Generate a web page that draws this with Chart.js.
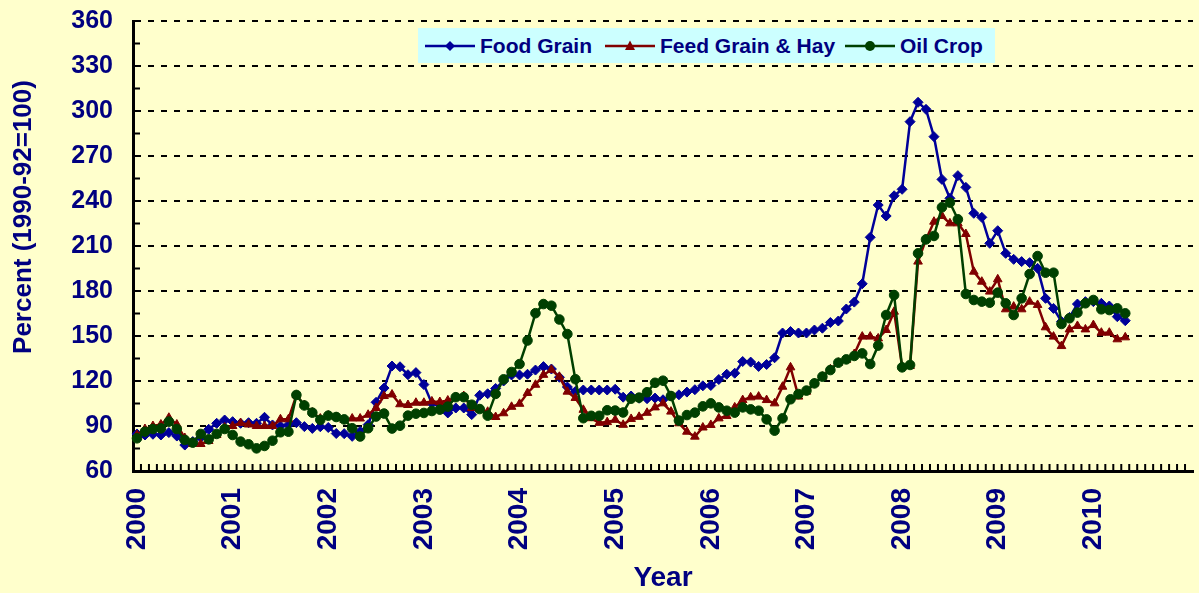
<!DOCTYPE html>
<html>
<head>
<meta charset="utf-8">
<script src="https://cdn.jsdelivr.net/npm/chart.js@4.4.1/dist/chart.umd.min.js"></script>
<style>
  html, body { margin: 0; padding: 0; background: #FFFFCC; }
  #wrap { position: relative; width: 1199px; height: 593px; }
  #legend {
    position: absolute; left: 418px; top: 28px; width: 577px; height: 35px;
    background: #CCFFFF;
    font: bold 21px "Liberation Sans", Arial, sans-serif; color: #000080;
  }
  #legend .item { position: absolute; top: 0; height: 35px; display: flex; align-items: center; white-space: nowrap; }
  #legend svg { margin-right: 5px; }
  #ytitle {
    position: absolute; left: -128px; top: 202px; width: 300px; height: 30px; line-height: 30px;
    text-align: center; transform: rotate(-90deg);
    font: bold 26px "Liberation Sans", Arial, sans-serif; color: #000080; white-space: nowrap;
  }
</style>
</head>
<body>
<div id="wrap">
  <canvas id="priceChart" width="1199" height="593"></canvas>
  <div id="legend"></div>
  <div id="ytitle">Percent (1990-92=100)</div>
</div>
<script>
// Chỉ số giá hàng tháng, 1/2000 - 5/2010 (1990-92=100)
const years = ['2000', '2001', '2002', '2003', '2004', '2005', '2006', '2007', '2008', '2009', '2010'];

const foodGrain = [
  84.7, 84, 84.5, 84, 85.6, 83.3, 77.3, 79.6, 82.4, 87.8, 91.8, 94,
  92.9, 91.8, 92.2, 91.8, 95.8, 90.7, 90, 90.7, 92.2, 89.6, 88.4, 89.5,
  89, 85, 84.9, 83.1, 86.4, 90.9, 105.8, 115.3, 130, 129.5, 124.2, 125.6,
  117.6, 105, 104, 98.7, 102, 102, 97.6, 110.5, 111.5, 115, 120, 124,
  124, 124.5, 127.3, 129.6, 128, 122.5, 116, 113, 114, 114, 114, 114,
  114.5, 109.2, 110, 108.5, 108.2, 108.6, 107.5, 110, 110.8, 112.6, 114.2, 116.8,
  117, 121, 124.5, 125.2, 133, 132.6, 129.7, 131, 135.5, 152, 153, 152,
  152, 154, 155.2, 159, 160, 168, 172.6, 184.8, 215.8, 237.3, 230, 243.5,
  247.8, 292.9, 305.8, 301.1, 282.9, 254.4, 241.8, 256.9, 249.1, 231.8, 229.1, 211.8,
  220.2, 205.1, 201.1, 199.6, 198.9, 195.1, 175.1, 168.4, 159.6, 162.4, 171.3, 172.9,
  172.9, 171.8, 170, 162.9, 160.2
];

const feedGrainHay = [
  84, 88, 90, 91, 95.5, 91, 82, 78, 78, 80, 84, 89,
  90, 92, 91, 90, 90, 90, 94.5, 94.5, 110.5, 104, 99, 95,
  97, 96, 94, 95, 95, 97.5, 102, 110, 111, 104.5, 104, 105.5,
  105.5, 106.4, 106, 107, 109, 110, 102, 101, 99.5, 96, 98.5, 102.8,
  104.8, 112, 117.5, 124.1, 127.5, 122.8, 112.9, 108.7, 100.8, 95.2, 92.1, 92.6,
  94.1, 90.8, 94.7, 96.1, 98.8, 102.4, 105.1, 99.6, 91.8, 86.2, 82.9, 89,
  90.7, 95.1, 96.7, 102.4, 107.3, 109.1, 109.6, 107.3, 105.1, 116.2, 129.1, 109.6,
  112.9, 118.4, 122.9, 127.8, 132.2, 134, 138, 149.6, 149.6, 148.4, 154, 166.2,
  129.6, 130, 199.6, 214.4, 226.2, 230, 225.1, 225.1, 218, 192.9, 186.2, 179.6,
  187.8, 167.8, 169.6, 167.8, 172.9, 170.7, 155.8, 149.6, 143.3, 154.4, 156.7, 154.4,
  157.3, 152.2, 152.2, 147.8, 149.1
];

const oilCrop = [
  81.8, 86.2, 88, 88.4, 92.9, 88, 80.7, 78.9, 84.7, 81.1, 84.7, 88,
  84, 79.6, 77.8, 75.1, 76.7, 80.2, 85.8, 86.2, 110.7, 103.7, 98.9, 94.1,
  96.9, 96, 94.4, 88.5, 83, 88.5, 96.3, 98.3, 88.3, 90.2, 96.9, 98.2,
  98.7, 100, 100.9, 102.9, 109.2, 109.2, 104.2, 101.3, 96.9, 111.4, 121.1, 126,
  131.3, 147, 165.2, 171.3, 170.2, 161, 151.3, 121.2, 95.2, 96.8, 96.8, 100.5,
  100.3, 99, 108.2, 108.9, 112.5, 118.8, 120.2, 110, 93.6, 97.3, 98.9, 103.1,
  105.1, 102.4, 100.2, 98.9, 102.4, 101.1, 100.2, 94.4, 86.9, 95.1, 107.8, 111.3,
  113.6, 118.4, 122.9, 127.3, 132.2, 134.4, 136.7, 138.4, 131.3, 143.6, 164, 177.3,
  129.1, 130.7, 205.1, 214.4, 216.7, 235.8, 238.9, 227.8, 178, 174, 172.9, 172.2,
  178.9, 171.8, 164, 175.1, 191.3, 203.3, 192.2, 192.2, 158, 161.8, 165.6, 171.8,
  174, 167.8, 167.3, 168.4, 165.1
];

const yTicks = [60, 90, 120, 150, 180, 210, 240, 270, 300, 330, 360];

// Nhãn tháng cho trục X (1/2000 .. 1/2011)
const months = [];
years.concat(['2011']).forEach(y => {
  for (let m = 1; m <= 12; m++) months.push(y + '-' + String(m).padStart(2, '0'));
});
months.length = 133;

const navy = '#000080';
const font = '"Liberation Sans", Arial, sans-serif';

const series = [
  { name: 'Food Grain', data: foodGrain, color: '#000099', point: 'rectRot', radius: 5, order: 3, left: 7 },
  { name: 'Feed Grain & Hay', data: feedGrainHay, color: '#800000', point: 'triangle', radius: 5, order: 2, left: 187 },
  { name: 'Oil Crop', data: oilCrop, color: '#004000', point: 'circle', radius: 4.8, order: 1, left: 427 }
];

// Vạch chia nhỏ trên trục
const axisTicks = {
  id: 'axisTicks',
  beforeDatasetsDraw(chart) {
    const { ctx, chartArea, scales } = chart;
    ctx.save();
    ctx.strokeStyle = '#000';
    ctx.lineWidth = 2;
    ctx.beginPath();
    for (let i = 0; i < yTicks.length - 1; i++) {
      const y = scales.y.getPixelForValue((yTicks[i] + yTicks[i + 1]) / 2);
      ctx.moveTo(chartArea.left, y);
      ctx.lineTo(chartArea.left + 7, y);
    }
    for (let i = 1; i < months.length; i++) {
      const x = (scales.x.getPixelForValue(i - 1) + scales.x.getPixelForValue(i)) / 2;
      ctx.moveTo(x, chartArea.bottom);
      ctx.lineTo(x, chartArea.bottom - 7);
    }
    ctx.stroke();
    ctx.restore();
  }
};

const chart = new Chart(document.getElementById('priceChart'), {
  type: 'line',
  data: {
    labels: months,
    datasets: series.map(s => ({
      label: s.name,
      data: s.data,
      order: s.order,
      borderColor: s.color,
      backgroundColor: s.color,
      borderWidth: 2.5,
      pointStyle: s.point,
      pointRadius: s.radius,
      pointBorderWidth: 1,
      tension: 0
    }))
  },
  options: {
    responsive: false,
    devicePixelRatio: 1,
    animation: false,
    layout: { padding: { top: 21, right: 4, left: 0, bottom: 0 } },
    plugins: { legend: { display: false }, tooltip: { enabled: false } },
    scales: {
      x: {
        type: 'category',
        offset: true,
        grid: { display: false },
        border: { color: '#000', width: 3 },
        ticks: {
          autoSkip: false,
          minRotation: 90,
          maxRotation: 90,
          padding: 9,
          color: navy,
          font: { family: font, size: 28, weight: 'bold' },
          callback: (v, i) => (i % 12 === 0 && i < 132) ? months[i].slice(0, 4) : ''
        },
        title: {
          display: true,
          text: 'Year',
          color: navy,
          font: { family: font, size: 28, weight: 'bold' },
          padding: { top: 0, bottom: -2 }
        },
        afterFit: s => { s.height = 122; s.paddingLeft = 0; s.paddingRight = 0; }
      },
      y: {
        min: 60,
        max: 360,
        grid: {
          color: '#000',
          lineWidth: 2,
          drawTicks: false
        },
        border: { color: '#000', width: 3, dash: [6, 7] },
        ticks: {
          stepSize: 30,
          padding: 20,
          color: navy,
          font: { family: font, size: 25, weight: 'bold' }
        },
        afterFit: s => { s.width = 133; s.paddingTop = 0; s.paddingBottom = 0; }
      }
    }
  },
  plugins: [axisTicks]
});

// Chú thích
const legendBox = document.getElementById('legend');
legendBox.innerHTML = series.map(s => {
  let marker = '';
  if (s.point === 'rectRot') marker = `<polygon points="25,2 30,7 25,12 20,7" fill="${s.color}"/>`;
  if (s.point === 'triangle') marker = `<polygon points="25,1.5 30,11 20,11" fill="${s.color}"/>`;
  if (s.point === 'circle') marker = `<circle cx="25" cy="7" r="5" fill="${s.color}"/>`;
  return `<div class="item" style="left:${s.left}px"><svg width="50" height="14"><line x1="0" y1="7" x2="50" y2="7" stroke="${s.color}" stroke-width="2.5"/>${marker}</svg><span>${s.name}</span></div>`;
}).join('');
</script>
</body>
</html>
